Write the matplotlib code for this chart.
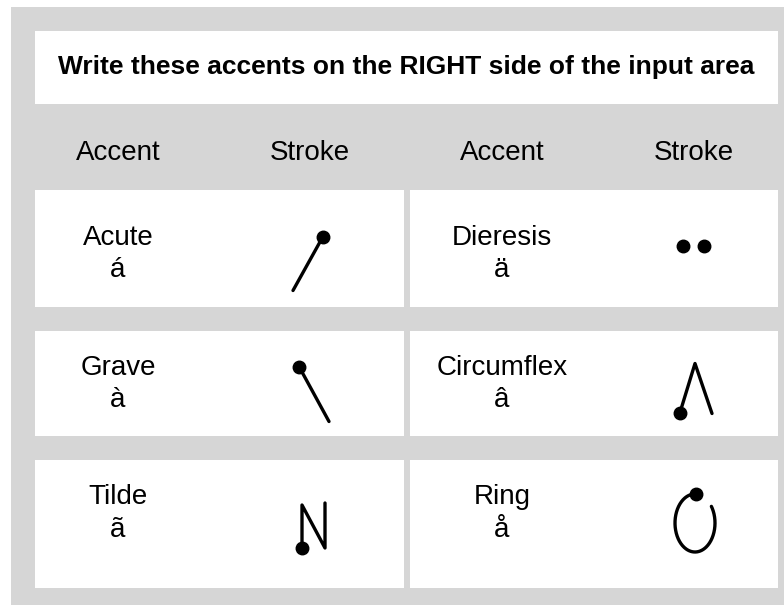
import numpy as np
import matplotlib.pyplot as plt
from matplotlib.patches import Rectangle

GRAY = '#d6d6d6'

title = 'Write these accents on the RIGHT side of the input area'
headers = ['Accent', 'Stroke', 'Accent', 'Stroke']
names = [['Acute', 'Dieresis'], ['Grave', 'Circumflex'], ['Tilde', 'Ring']]
letters = [['á', 'ä'], ['à', 'â'], ['ã', 'å']]

# stroke shapes, offsets from the centre of each stroke cell (px, y down)
strokes = {
    'Acute': [(-17, 42), (13, -12)],
    'Grave': [(-11, -17), (19, 38)],
    'Circumflex': [(-14, 29), (1, -20), (18, 30)],
    'Tilde': [(-8, 24), (-8, -19), (15, 24), (15, -21)],
}
dot_at = {'Acute': -1, 'Grave': 0, 'Circumflex': 0, 'Tilde': 0}
dieresis_dots = [(-11, -3), (10, -3)]
ring = dict(cx=1, cy=-1, rx=20, ry=29, start=88, end=395)

# layout in pixels
W, H = 784, 605
col_x = [118, 310, 502, 694]
cell_x = [(35, 404), (410, 778)]
row_y = [(190, 307), (331, 436), (460, 588)]
name_base = [55, 44, 44]
letter_base = [87, 76, 77]
fs = 20

fig = plt.figure(figsize=(W / 100, H / 100), dpi=100)
ax = fig.add_axes([0, 0, 1, 1])
ax.set_xlim(0, W)
ax.set_ylim(H, 0)
ax.axis('off')
plt.rcParams['font.family'] = ['Liberation Sans', 'DejaVu Sans']

ax.add_patch(Rectangle((11, 7), W - 11, H - 7, color=GRAY, lw=0))
ax.add_patch(Rectangle((35, 31), 778 - 35, 104 - 31, color='white', lw=0))
ax.text(406.5, 74, title, ha='center', va='baseline', fontsize=19, fontweight='bold')

for x, h in zip(col_x, headers):
    ax.text(x, 160, h, ha='center', va='baseline', fontsize=fs)

for r, (y0, y1) in enumerate(row_y):
    for c, (x0, x1) in enumerate(cell_x):
        ax.add_patch(Rectangle((x0, y0), x1 - x0, y1 - y0, color='white', lw=0))
        name = names[r][c]
        tx = col_x[2 * c]
        ax.text(tx, y0 + name_base[r], name, ha='center', va='baseline', fontsize=fs)
        ax.text(tx, y0 + letter_base[r], letters[r][c], ha='center', va='baseline', fontsize=fs)

        sx, sy = col_x[2 * c + 1], (y0 + y1) / 2
        if name in strokes:
            pts = np.array(strokes[name], dtype=float)
            ax.plot(sx + pts[:, 0], sy + pts[:, 1], color='black', lw=2.4,
                    solid_capstyle='round', solid_joinstyle='round')
            d = pts[dot_at[name]]
            ax.plot(sx + d[0], sy + d[1], 'o', color='black', ms=9)
        elif name == 'Dieresis':
            for dx, dy in dieresis_dots:
                ax.plot(sx + dx, sy + dy, 'o', color='black', ms=9)
        elif name == 'Ring':
            t = np.radians(np.linspace(ring['start'], ring['end'], 200))
            ex = sx + ring['cx'] + ring['rx'] * np.cos(t)
            ey = sy + ring['cy'] - ring['ry'] * np.sin(t)
            ax.plot(ex, ey, color='black', lw=2.4, solid_capstyle='round')
            ax.plot(ex[0], ey[0], 'o', color='black', ms=9)

fig.savefig('out.png', dpi=100)
